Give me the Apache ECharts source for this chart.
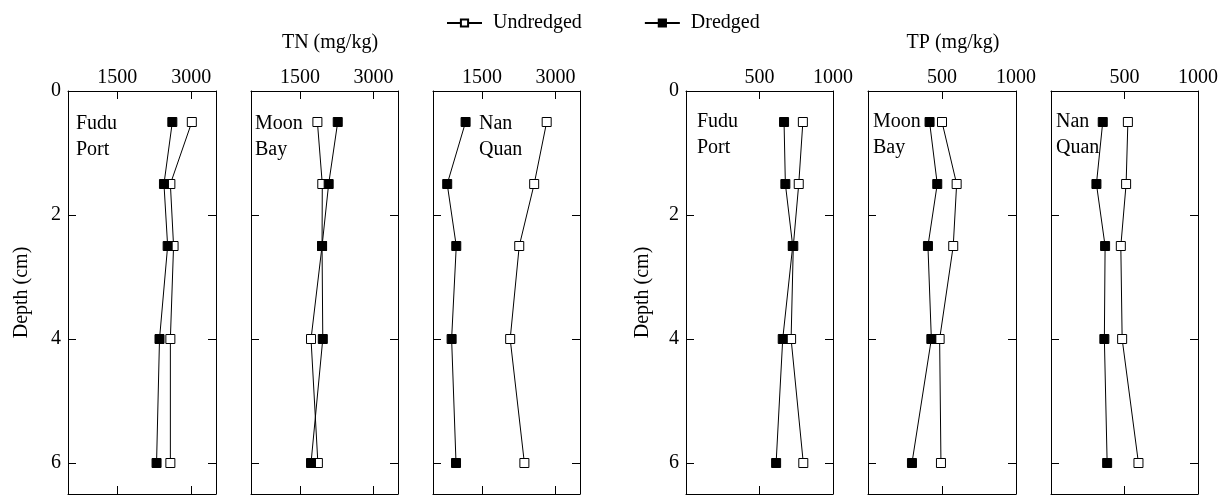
<!DOCTYPE html>
<html>
<head>
<meta charset="utf-8">
<script src="https://cdn.jsdelivr.net/npm/echarts@6/dist/echarts.min.js"></script>
<style>
html,body{margin:0;padding:0;background:#fff;}
#chart{width:1224px;height:495px;}
</style>
</head>
<body>
<div id="chart"></div>
<script>
// ---- data ----
const depths = [0.5, 1.5, 2.5, 4, 6];
const seriesNames = ['Undredged', 'Dredged'];
const siteLabels = ['Fudu\nPort', 'Moon\nBay', 'Nan\nQuan', 'Fudu\nPort', 'Moon\nBay', 'Nan\nQuan'];
const groupTitles = ['TN (mg/kg)', 'TP (mg/kg)'];
const depthTicks = [0, 2, 4, 6];
const tnTicks = [1500, 3000];
const tpTicks = [500, 1000];

const fuduTN_und = [3010, 2575, 2640, 2575, 2575];
const fuduTN_dr  = [2615, 2445, 2520, 2355, 2295];
const moonTN_und = [1855, 1955, 1950, 1725, 1865];
const moonTN_dr  = [2270, 2085, 1950, 1965, 1725];
const nanTN_und  = [2820, 2565, 2260, 2075, 2365];
const nanTN_dr   = [1165, 790, 975, 880, 970];

const fuduTP_und = [795, 767, 730, 715, 798];
const fuduTP_dr  = [667, 676, 726, 658, 613];
const moonTP_und = [500, 599, 576, 484, 493];
const moonTP_dr  = [416, 468, 405, 428, 297];
const nanTP_und  = [523, 511, 475, 484, 595];
const nanTP_dr   = [352, 309, 368, 363, 382];

// ---- layout ----
const FONT = '"Liberation Serif", "Times New Roman", serif';
const FS = 20;
const TOP = 91, HEIGHT = 403;
const panels = [
  {left: 68,  width: 148, min: 500, max: 3500, ticks: tnTicks, und: fuduTN_und, dr: fuduTN_dr, lx: 76,  ly: 111, yName: true,  nameGap: 36},
  {left: 251, width: 147, min: 500, max: 3500, ticks: tnTicks, und: moonTN_und, dr: moonTN_dr, lx: 255, ly: 111},
  {left: 433, width: 147, min: 500, max: 3500, ticks: tnTicks, und: nanTN_und,  dr: nanTN_dr,  lx: 479, ly: 111},
  {left: 686, width: 147, min: 0,   max: 1000, ticks: tpTicks, und: fuduTP_und, dr: fuduTP_dr, lx: 697, ly: 109, yName: true, nameGap: 33},
  {left: 868, width: 148, min: 0,   max: 1000, ticks: tpTicks, und: moonTP_und, dr: moonTP_dr, lx: 873, ly: 109},
  {left: 1051,width: 147, min: 0,   max: 1000, ticks: tpTicks, und: nanTP_und,  dr: nanTP_dr,  lx: 1056,ly: 109}
];

const axisLine = {show: true, onZero: false, lineStyle: {color: '#000', width: 1}};
const labelStyle = {fontSize: FS, fontFamily: FONT, color: '#000'};
const plain = v => String(v);

const grid = [], xAxis = [], yAxis = [], series = [], graphic = [];
panels.forEach((p, i) => {
  grid.push({left: p.left, top: TOP, width: p.width, height: HEIGHT});
  xAxis.push({
    gridIndex: i, type: 'value', position: 'top', min: p.min, max: p.max,
    axisLine: axisLine,
    axisTick: {show: true, inside: true, length: 8, customValues: p.ticks, lineStyle: {color: '#000'}},
    axisLabel: Object.assign({show: true, margin: 3, customValues: p.ticks, formatter: plain}, labelStyle),
    splitLine: {show: false}
  });
  xAxis.push({
    gridIndex: i, type: 'value', position: 'bottom', min: p.min, max: p.max,
    axisLine: axisLine,
    axisTick: {show: true, inside: true, length: 8, customValues: p.ticks, lineStyle: {color: '#000'}},
    axisLabel: {show: false},
    splitLine: {show: false}
  });
  const yl = {
    gridIndex: i, type: 'value', position: 'left', inverse: true, min: 0, max: 6.5,
    axisLine: axisLine,
    axisTick: {show: true, inside: true, length: 8, customValues: depthTicks, lineStyle: {color: '#000'}},
    axisLabel: Object.assign({show: !!p.yName, margin: 7, customValues: depthTicks, formatter: plain}, labelStyle),
    splitLine: {show: false}
  };
  if (p.yName) {
    yl.name = 'Depth (cm)';
    yl.nameLocation = 'middle';
    yl.nameRotate = 90;
    yl.nameGap = p.nameGap;
    yl.nameTextStyle = labelStyle;
  }
  yAxis.push(yl);
  yAxis.push({
    gridIndex: i, type: 'value', position: 'right', inverse: true, min: 0, max: 6.5,
    axisLine: axisLine,
    axisTick: {show: true, inside: true, length: 8, customValues: depthTicks, lineStyle: {color: '#000'}},
    axisLabel: {show: false},
    splitLine: {show: false}
  });
  [[seriesNames[0], p.und, '#fff'], [seriesNames[1], p.dr, '#000']].forEach(([name, vals, fill]) => {
    series.push({
      name: name, type: 'line', xAxisIndex: 2 * i, yAxisIndex: 2 * i,
      data: depths.map((d, k) => [vals[k], d]),
      symbol: 'rect', symbolSize: 9, showAllSymbol: true,
      itemStyle: {color: fill, borderColor: '#000', borderWidth: 1},
      lineStyle: {color: '#000', width: 1},
      emphasis: {disabled: true},
      animation: false
    });
  });
  graphic.push({
    type: 'text', left: p.lx, top: p.ly, z: 10,
    style: {text: siteLabels[i], fontSize: FS, fontFamily: FONT, fill: '#000', lineHeight: 26}
  });
});

graphic.push({type: 'text', x: 330, y: 43, style: {text: groupTitles[0], fontSize: FS, fontFamily: FONT, fill: '#000', align: 'center', verticalAlign: 'middle'}});
graphic.push({type: 'text', x: 953, y: 43, style: {text: groupTitles[1], fontSize: FS, fontFamily: FONT, fill: '#000', align: 'center', verticalAlign: 'middle'}});

const chart = echarts.init(document.getElementById('chart'), null, {renderer: 'canvas'});
chart.setOption({
  animation: false,
  backgroundColor: '#fff',
  textStyle: {fontFamily: FONT},
  legend: {
    data: seriesNames, top: 8, left: 441, itemWidth: 35, itemHeight: 9, itemGap: 62,
    textStyle: {fontSize: FS, fontFamily: FONT, color: '#000', padding: [0, 0, 0, 6]},
    selectedMode: false
  },
  grid: grid, xAxis: xAxis, yAxis: yAxis, series: series, graphic: graphic
});
</script>
</body>
</html>
